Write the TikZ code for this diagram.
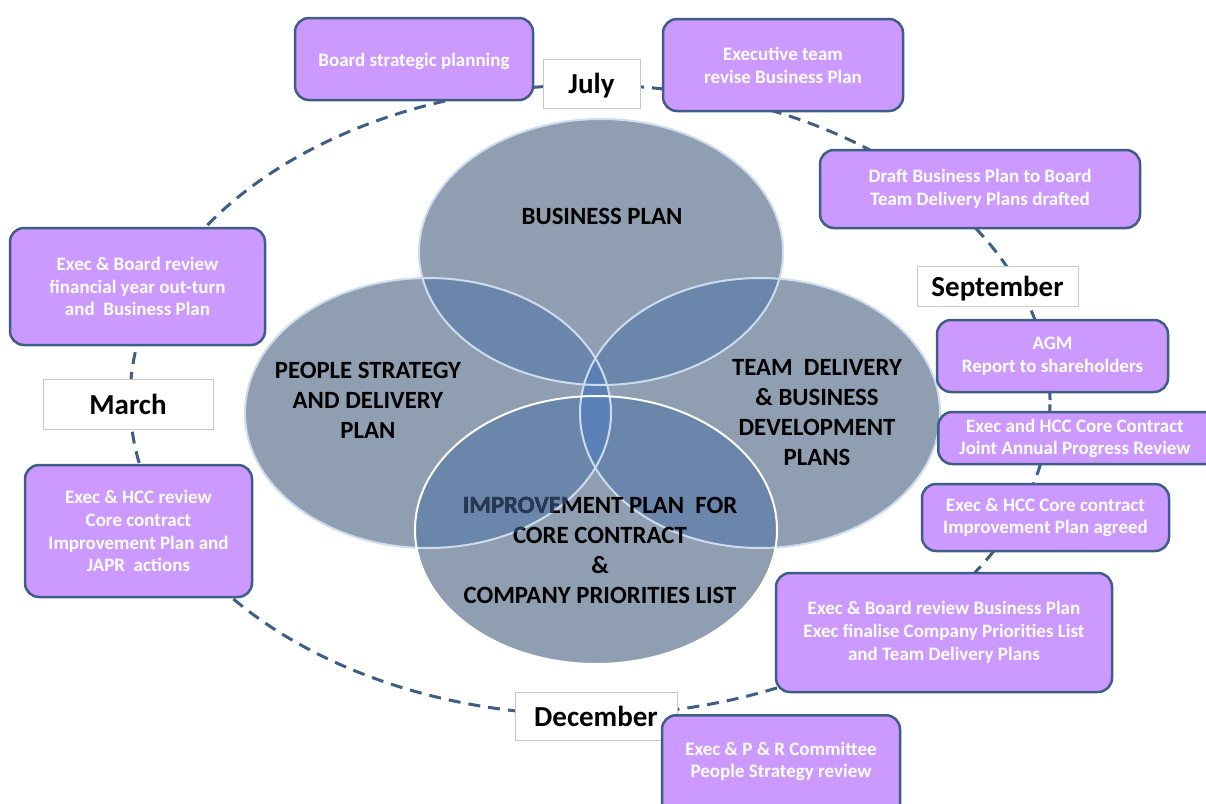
\documentclass[tikz,border=0pt]{standalone}
\usepackage{fontspec}
\setmainfont{Carlito}
\definecolor{boxfill}{RGB}{204,153,255}
\definecolor{boxline}{RGB}{62,94,135}
\definecolor{ringline}{RGB}{62,94,135}
\definecolor{venngray}{RGB}{143,158,176}
\definecolor{vennov}{RGB}{106,134,171}
\definecolor{venncen}{RGB}{90,128,181}
\definecolor{vennedge}{RGB}{205,220,238}
\definecolor{monthedge}{RGB}{200,200,200}
\definecolor{dimtext}{RGB}{40,58,88}
\tikzset{
  evbox/.style={draw=boxline, fill=boxfill, line width=2.5pt, rounded corners=14pt,
    text=white, font=\bfseries\fontsize{19}{22.8}\selectfont, align=center,
    inner sep=0pt},
  monthbox/.style={draw=monthedge, fill=white, line width=0.8pt,
    font=\bfseries\fontsize{29}{32}\selectfont, text=black, inner sep=0pt,
    text depth=0pt},
  venntext/.style={font=\bfseries\fontsize{24.8}{30}\selectfont, text=black, align=center},
  ring/.style={draw=ringline, line width=3pt, dash pattern=on 12pt off 8pt},
}
\begin{document}
\begin{tikzpicture}[x=1pt,y=-1pt]
\useasboundingbox (0,0) rectangle (1206,803);
% dashed ring
\draw[ring] (590,400) ellipse [x radius=460pt, y radius=315pt];
% Venn ellipses
\def\elA{(601,252) ellipse [x radius=182pt, y radius=133pt]}
\def\elB{(428,413) ellipse [x radius=183pt, y radius=135pt]}
\def\elC{(760,413) ellipse [x radius=180pt, y radius=135pt]}
\def\elD{(596,530) ellipse [x radius=181pt, y radius=134pt]}
\fill[venngray] \elA; \fill[venngray] \elB; \fill[venngray] \elC; \fill[venngray] \elD;
\begin{scope}\clip \elA; \fill[vennov] \elB; \fill[vennov] \elC; \end{scope}
\begin{scope}\clip \elD; \fill[vennov] \elB; \fill[vennov] \elC; \end{scope}
\begin{scope}\clip \elB; \fill[venncen] \elC; \end{scope}
\draw[vennedge, line width=2pt] \elA;
\draw[vennedge, line width=2pt] \elB;
\draw[vennedge, line width=2pt] \elC;
\draw[white, line width=2pt] \elD;
% Venn texts
\node[venntext] (tBP) at (602,216) {BUSINESS PLAN};
\node[venntext] (tPS) at (368,400) {PEOPLE STRATEGY\\AND DELIVERY\\PLAN};
\node[venntext] (tTD) at (817,413) {TEAM \ DELIVERY\\\& BUSINESS\\DEVELOPMENT\\PLANS};
\node[venntext] (tIP) at (600,550) {IMPROVEMENT PLAN \ FOR\\CORE CONTRACT\\\&\\COMPANY PRIORITIES LIST};
\begin{scope}
\clip \elB;
\node[venntext, text=dimtext] at (600,550) {IMPROVEMENT PLAN \ FOR\\CORE CONTRACT\\\&\\COMPANY PRIORITIES LIST};
\end{scope}
% month boxes
\node[monthbox, minimum width=97pt, minimum height=49pt] (jul) at (591.5,83.5) {July};
\node[monthbox, minimum width=161pt, minimum height=40pt] (sep) at (997.5,286) {September};
\node[monthbox, minimum width=170pt, minimum height=50pt] (mar) at (128,404) {March};
\node[monthbox, minimum width=162pt, minimum height=48pt] (dec) at (596,716) {December};
% event boxes
\node[evbox, minimum width=238pt, minimum height=82pt] (b1) at (414,59) {};
\node[evbox, draw=none, fill=none] (b1t) at (414,61) {Board strategic planning};
\node[evbox, minimum width=240pt, minimum height=92pt] (b2) at (783,65) {Executive team\\revise Business Plan};
\node[evbox, minimum width=320pt, minimum height=78pt] (b3) at (980,189) {Draft Business Plan to Board\\Team Delivery Plans drafted};
\node[evbox, minimum width=255pt, minimum height=117pt] (b4) at (137.5,286.5) {Exec \& Board review\\financial year out-turn\\and \ Business Plan};
\node[evbox, minimum width=231pt, minimum height=72pt] (b5) at (1052.5,356) {AGM\\Report to shareholders};
\node[evbox, minimum width=290pt, minimum height=52pt, anchor=west] (b6) at (937,438) {};
\node[evbox, draw=none, fill=none] (b6t) at (1075,438.5) {Exec and HCC Core Contract\\Joint Annual Progress Review};
\node[evbox, minimum width=247pt, minimum height=67pt] (b7) at (1045.5,517.5) {Exec \& HCC Core contract\\Improvement Plan agreed};
\node[evbox, minimum width=227pt, minimum height=132pt] (b8) at (138.5,531) {Exec \& HCC review\\Core contract\\Improvement Plan and\\JAPR \ actions};
\node[evbox, minimum width=336pt, minimum height=119pt] (b9) at (944,632.5) {Exec \& Board review Business Plan\\Exec finalise Company Priorities List\\and Team Delivery Plans};
\node[evbox, minimum width=238pt, minimum height=110pt, anchor=north] (b10) at (781,714) {};
\node[evbox, draw=none, fill=none] (b10t) at (781,761.5) {Exec \& P \& R Committee\\People Strategy review};
\end{tikzpicture}
\end{document}
